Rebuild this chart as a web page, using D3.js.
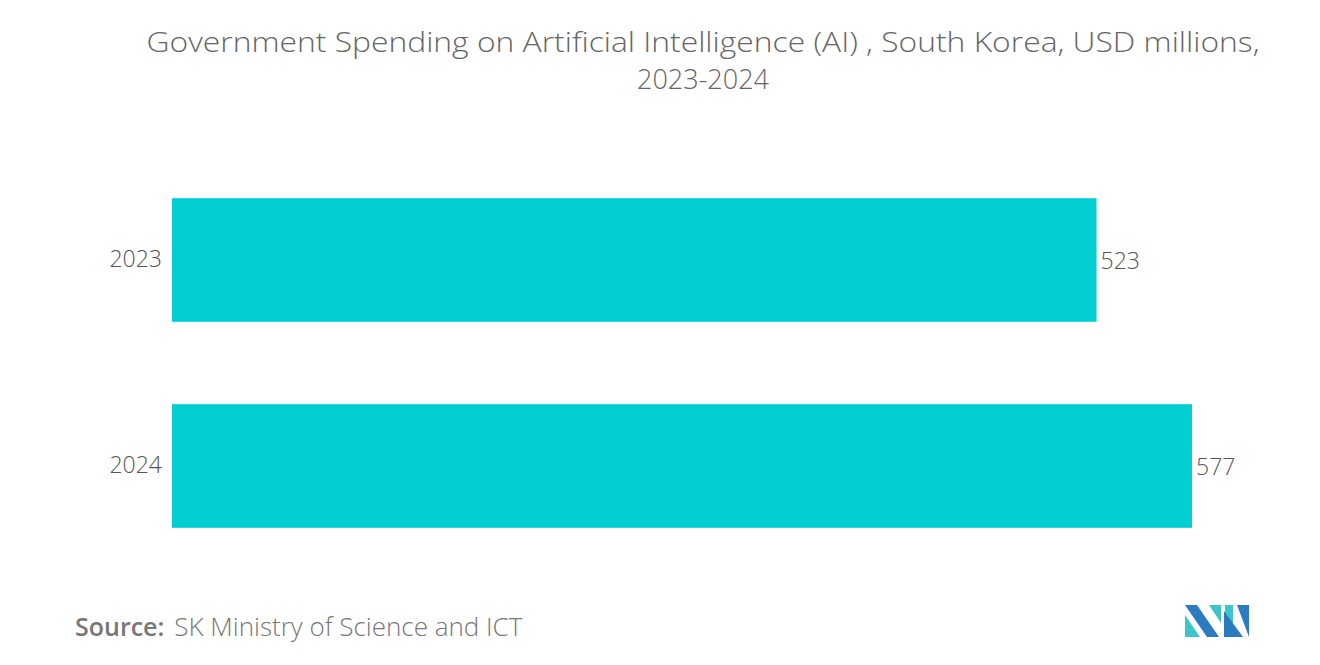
<!DOCTYPE html>
<html><head><meta charset="utf-8">
<script src="https://cdn.jsdelivr.net/npm/d3@7"></script>
<style>body{margin:0;background:#fff;font-family:"Open Sans",sans-serif;}</style>
</head><body><div id="chart"></div>
<script>
// data
const years = ["2023", "2024"];
const values = [523, 577];
const titleLines = ["Government Spending on Artificial Intelligence (AI) , South Korea, USD millions,", "2023-2024"];

const svg = d3.select("#chart").append("svg").attr("width", 1320).attr("height", 665);

svg.selectAll(".title").data(titleLines).join("text")
    .attr("x", 703).attr("y", (d, i) => 52 + i * 37)
    .attr("text-anchor", "middle").attr("fill", "#666")
    .style("font-size", "27px").style("font-weight", 300)
    .attr("textLength", (d, i) => i === 0 ? 1113 : null)
    .attr("lengthAdjust", "spacingAndGlyphs")
    .text(d => d);

let x = d3.scaleLinear().domain([0, 577]).range([172, 1192]);
let y = d3.scaleBand().domain(years).range([157, 569]).paddingInner(0.4).paddingOuter(0.2);

let rows = years.map((yr, i) => ({year: yr, value: values[i]}));

svg.selectAll(".bar").data(rows).join("rect")
    .attr("x", x(0)).attr("y", d => y(d.year))
    .attr("width", d => x(d.value) - x(0)).attr("height", y.bandwidth())
    .attr("fill", "#00CED1");

svg.selectAll(".val").data(rows).join("text")
    .attr("x", d => x(d.value) + 4).attr("y", d => y(d.year) + y.bandwidth() / 2 + 9)
    .attr("fill", "#555").style("font-size", "23px").style("font-weight", 300).text(d => d.value);

let yAxis = d3.axisLeft(y).tickSize(0).tickPadding(10);
svg.append("g").attr("transform", `translate(${x(0)},0)`).call(yAxis)
    .call(g => g.select(".domain").remove())
    .selectAll("text").attr("fill", "#555").style("font-size", "23px").style("font-weight", 300)
    .style("font-family", "'Open Sans',sans-serif");

svg.append("text").attr("x", 75).attr("y", 636).attr("fill", "#777").style("font-size", "25px")
    .html('<tspan font-weight="600">Source:</tspan><tspan dx="10" font-weight="300" textLength="348" lengthAdjust="spacingAndGlyphs">SK Ministry of Science and ICT</tspan>');

// logo
let logo = svg.append("g").attr("transform", "translate(1185,605)");
logo.append("path").attr("d", "M0,0 L12,0 L34,32 L22,32 Z").attr("fill", "#2b7bbf");
logo.append("path").attr("d", "M0,10 L15,32 L0,32 Z").attr("fill", "#3cc6c9");
logo.append("path").attr("d", "M24,0 L36,0 L36,18 Z").attr("fill", "#3cc6c9");
logo.append("path").attr("d", "M40,0 L48,0 L48,32 L40,32 Z").attr("fill", "#3cc6c9");
logo.append("path").attr("d", "M52,0 L64,0 L64,32 Z").attr("fill", "#2b7bbf");
logo.append("path").attr("d", "M39,6 L58,32 L39,32 Z").attr("fill", "#2b7bbf");
</script></body></html>
